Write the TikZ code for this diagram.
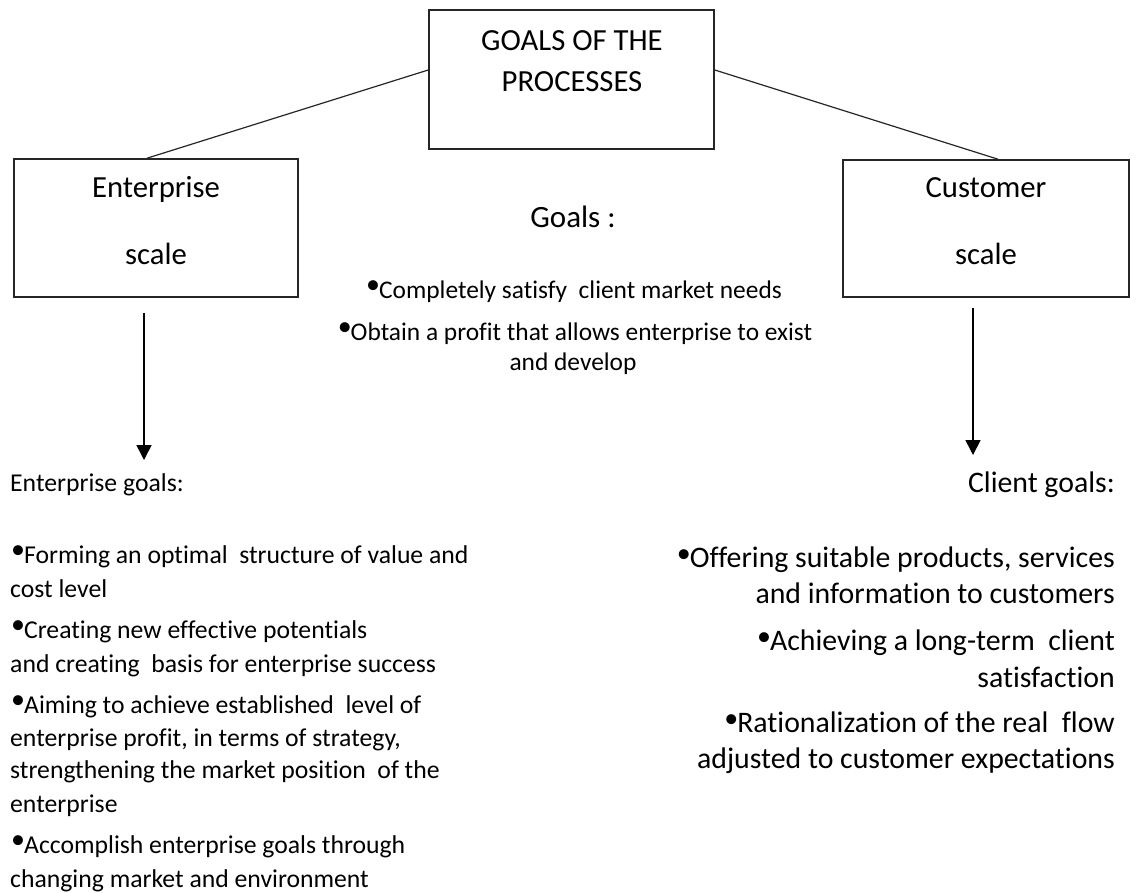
\documentclass[tikz,border=0pt]{standalone}
\usepackage{fontspec}
\setmainfont[Ligatures={NoCommon}]{Carlito}
\usetikzlibrary{arrows.meta}
\newcommand\bul{{\fontsize{28}{28}\selectfont\raisebox{4.5pt}{•}}\hspace{-1pt}}
\begin{document}
\begin{tikzpicture}[x=1pt,y=-1pt,
  box/.style={draw=black!85, line width=1.6pt, rectangle, inner sep=0pt},
  link/.style={draw=black!85, line width=1.2pt},
  arr/.style={draw=black, line width=1.6pt, -{Triangle[width=15pt,length=15pt]}},
  lbl/.style={font=\fontsize{30.7}{36}\selectfont, inner sep=0pt, anchor=base},
  mhead/.style={font=\fontsize{31}{36}\selectfont, inner sep=0pt, anchor=base},
  mt/.style={font=\fontsize{25.4}{30}\selectfont, inner sep=0pt, anchor=base},
  lt/.style={font=\fontsize{25.7}{30}\selectfont, inner sep=0pt, anchor=base west},
  rt/.style={font=\fontsize{29.8}{36}\selectfont, inner sep=0pt, anchor=base east}]
\useasboundingbox (0,0) rectangle (1139,892);
\fill[white] (0,0) rectangle (1139,892);

% boxes
\node[box, minimum width=285pt, minimum height=139pt] (top) at (571.5,79.5) {};
\node[box, minimum width=284pt, minimum height=138pt] (ent) at (156,228) {};
\node[box, minimum width=286pt, minimum height=137pt] (cus) at (986,228.5) {};

% box labels
\node[lbl] (t1) at (572,50) {GOALS OF THE};
\node[lbl] (t2) at (572,91) {PROCESSES};
\node[lbl] (e1) at (156,197) {Enterprise};
\node[lbl] (e2) at (156,264) {scale};
\node[lbl] (c1) at (986,197) {Customer};
\node[lbl] (c2) at (986,264) {scale};

% connectors
\draw[link] ([yshift=9.5pt]top.west) -- ([xshift=-9pt]ent.north);
\draw[link] ([yshift=9.5pt]top.east) -- ([xshift=12pt]cus.north);

\coordinate (ea) at (144,460);
\coordinate (ca) at (973,455);
\draw[arr] ([xshift=-12pt,yshift=-15pt]ent.south) -- (ea);
\draw[arr] ([xshift=-13pt,yshift=-10pt]cus.south) -- (ca);

% middle text
\node[mhead] (g0) at (573,227) {Goals :};
\node[mt] (g1) at (574,298) {\bul Completely satisfy\ \ client market needs};
\node[mt] (g2) at (575,340) {\bul Obtain a profit that allows enterprise to exist};
\node[mt] (g3) at (573,370) {and develop};

% left list
\node[lt] (l0) at (10,491) {Enterprise goals:};
\node[lt] (l1) at (11,563) {\bul Forming an optimal\ \ structure of value and};
\node[lt] (l2) at (10,597) {cost level};
\node[lt] (l3) at (11,638) {\bul Creating new effective potentials};
\node[lt] (l4) at (10,672) {and creating\ \ basis for enterprise success};
\node[lt] (l5) at (11,713) {\bul Aiming to achieve established\ \ level of};
\node[lt] (l6) at (10,746) {enterprise profit, in terms of strategy,};
\node[lt] (l7) at (10,778) {strengthening the market position\ \ of the};
\node[lt] (l8) at (10,812) {enterprise};
\node[lt] (l9) at (11,853) {\bul Accomplish enterprise goals through};
\node[lt] (l10) at (10,887) {changing market and environment};

% right list
\node[rt] (r0) at (1115,492) {Client goals:};
\node[rt] (r1) at (1115,567) {\bul Offering suitable products, services};
\node[rt] (r2) at (1115,603) {and information to customers};
\node[rt] (r3) at (1115,650) {\bul Achieving a long-term\ \ client};
\node[rt] (r4) at (1115,687) {satisfaction};
\node[rt] (r5) at (1115,732) {\bul Rationalization of the real\ \ flow};
\node[rt] (r6) at (1115,768) {adjusted to customer expectations};
\end{tikzpicture}
\end{document}
